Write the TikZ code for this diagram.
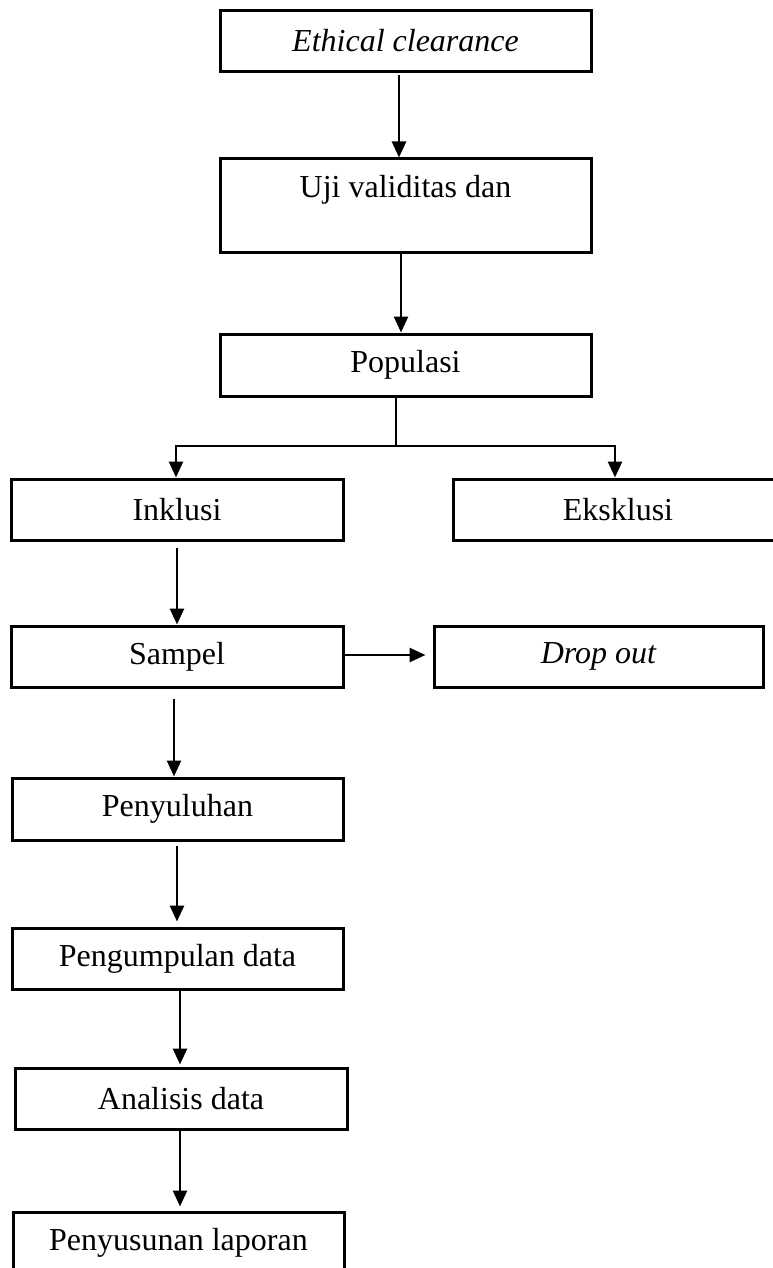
\documentclass[tikz,border=0pt]{standalone}
\usepackage{fontspec}
\setmainfont{Liberation Serif}
\usetikzlibrary{arrows.meta}
\begin{document}
\begin{tikzpicture}[x=1pt,y=-1pt,
  box/.style={draw, line width=3pt, inner sep=0pt, align=center,
    font=\fontsize{32}{38}\selectfont},
  arr/.style={line width=2.6pt, -{Triangle[length=16pt,width=14pt]}},
  ln/.style={line width=2.6pt}]
\useasboundingbox (0,0) rectangle (773,1268);
\clip (0,0) rectangle (773,1268);
\node[box, minimum width=371pt, minimum height=61pt] (eth) at (405.5,41) {\itshape Ethical clearance};
\node[box, minimum width=371pt, minimum height=93pt] (uji) at (405.5,205.5) {Uji validitas dan\\ ~};
\node[box, minimum width=371pt, minimum height=62pt] (pop) at (405.5,365) {Populasi};
\node[box, minimum width=332pt, minimum height=61pt] (ink) at (177,509.5) {Inklusi};
\node[box, minimum width=330pt, minimum height=61pt] (eks) at (618,509.5) {Eksklusi};
\node[box, minimum width=332pt, minimum height=61pt] (samp) at (177,656.5) {Sampel};
\node[box, minimum width=329pt, minimum height=61pt] (drop) at (598.5,656.5) {\itshape Drop out};
\node[box, minimum width=331pt, minimum height=62pt] (peny) at (177.5,809) {Penyuluhan};
\node[box, minimum width=331pt, minimum height=61pt] (peng) at (177.5,958.5) {Pengumpulan data};
\node[box, minimum width=332pt, minimum height=61pt] (anal) at (181,1098.5) {Analisis data};
\node[box, minimum width=331pt, minimum height=62pt] (lap) at (178.5,1243) {Penyusunan laporan};
\coordinate (split) at (396,446);

\draw[arr] ([xshift=-6.5pt,yshift=-2pt]eth.south) -- ([xshift=-6.5pt]uji.north);
\draw[arr] ([xshift=-4.5pt]uji.south) -- ([xshift=-4.5pt]pop.north);
\draw[ln] ([xshift=-9.5pt]pop.south) -- (split);
\draw[arr] (split) -| ([xshift=-1pt]ink.north);
\draw[arr] (split) -| ([xshift=-3pt]eks.north);
\draw[arr] ([yshift=-6pt]ink.south) -- (samp.north);
\draw[arr, shorten >=7pt] ([yshift=1.5pt]samp.east) -- ([yshift=1.5pt]drop.west);
\draw[arr] ([xshift=-3pt,yshift=-10pt]samp.south) -- ([xshift=-3.5pt]peny.north);
\draw[arr, shorten >=5pt] ([xshift=-0.5pt,yshift=-4pt]peny.south) -- ([xshift=-0.5pt]peng.north);
\draw[arr, shorten >=2pt] ([xshift=2.5pt]peng.south) -- ([xshift=2.5pt]peng.south |- anal.north);
\draw[arr, shorten >=4pt] ([xshift=-1pt]anal.south) -- ([xshift=-1pt]anal.south |- lap.north);
\end{tikzpicture}
\end{document}
